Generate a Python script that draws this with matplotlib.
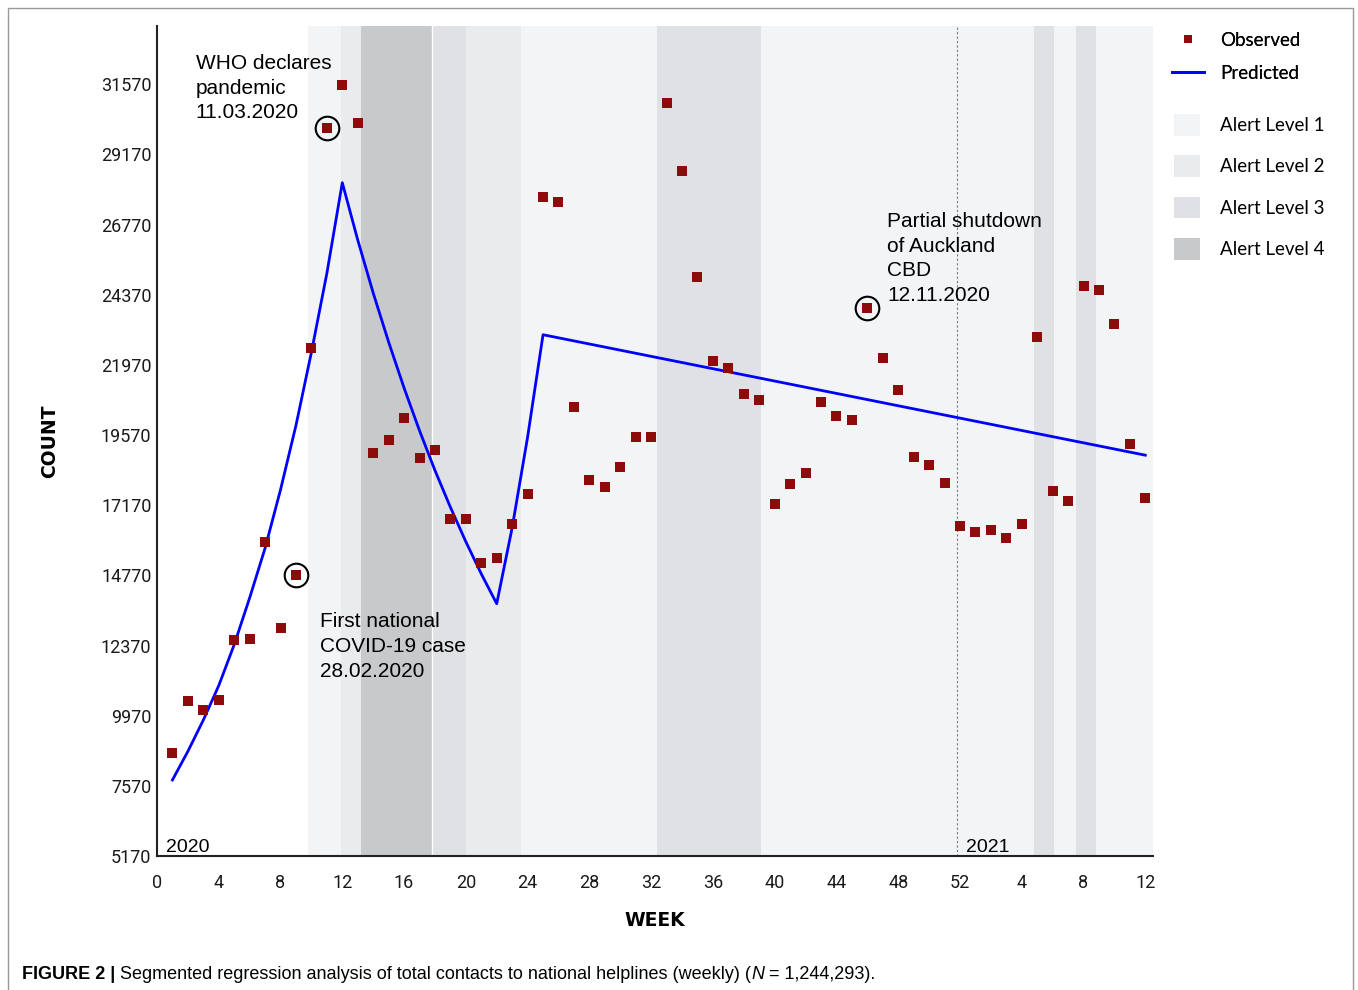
import matplotlib.pyplot as plt
from matplotlib.patches import Rectangle, Patch
from matplotlib.lines import Line2D

# weekly helpline contacts, week 1 = first week of 2020 (weeks 53-64 are 2021)
weeks = list(range(1, 65))
observed = [8690, 10470, 10160, 10500, 12560, 12590, 15910, 12970, 14780, 22540,
            30070, 31540, 30240, 18950, 19400, 20150, 18780, 19060, 16700, 16700,
            15190, 15360, 16520, 17550, 27710, 27540, 20530, 18030, 17790, 18470,
            19500, 19500, 30920, 28600, 24970, 22100, 21860, 20970, 20770, 17210,
            17890, 18270, 20700, 20220, 20080, 23910, 22200, 21110, 18820, 18540,
            17930, 16460, 16250, 16320, 16050, 16520, 22920, 17650, 17310, 24660,
            24530, 23360, 19260, 17410]

# segmented regression fit
pred_weeks = [1, 2, 3, 4, 5, 6, 7, 8, 9, 10, 11, 12,
              13, 14, 15, 16, 17, 18, 19, 20, 21, 22,
              23, 24, 25, 64]
predicted = [7770, 8750, 9820, 11000, 12400, 14000, 15700, 17700, 19900, 22400, 25100, 28200,
             26240, 24430, 22750, 21180, 19720, 18360, 17100, 15920, 14820, 13800,
             16400, 19500, 23000, 18880]

# alert level periods (start week, end week, level)
alert_periods = [(9.8, 11.9, 1), (11.9, 13.2, 2), (13.2, 17.8, 4), (17.8, 20.0, 3),
                 (20.0, 23.6, 2), (23.6, 32.4, 1), (32.4, 39.1, 3), (39.1, 56.8, 1),
                 (56.8, 58.1, 3), (58.1, 59.5, 1), (59.5, 60.8, 3), (60.8, 64.5, 1)]
level_colors = {1: '#f3f4f6', 2: '#eaebed', 3: '#e0e1e4', 4: '#c8c9cb'}

circled_weeks = [9, 11, 46]
year_break = 51.8

yticks = [5170, 7570, 9970, 12370, 14770, 17170, 19570, 21970, 24370, 26770, 29170, 31570]
xticks = list(range(0, 65, 4))
xticklabels = ['0', '4', '8', '12', '16', '20', '24', '28', '32', '36', '40', '44',
               '48', '52', '4', '8', '12']

fig = plt.figure(figsize=(13.58, 9.9), dpi=100)
ax = fig.add_axes([157/1358, 1 - 856/990, (1153 - 157)/1358, (856 - 26)/990])

for start, end, level in alert_periods:
    ax.axvspan(start, end, color=level_colors[level], lw=0, zorder=0)
ax.axvline(17.8, color='white', lw=1, zorder=0.5)
ax.axvline(year_break, color='#777777', lw=0.8, ls=(0, (2, 2)), zorder=1)

ax.plot(pred_weeks, predicted, color='#0000ff', lw=2.0, zorder=2)
ax.plot(weeks, observed, 's', color='#8e0b0b', ms=7, mew=0, zorder=3)

circ_vals = [observed[weeks.index(w)] for w in circled_weeks]
ax.plot(circled_weeks, circ_vals, 'o', ms=17, mfc='none', mec='black', mew=1.5, zorder=4)

ax.set_xlim(0, 64.5)
ax.set_ylim(5170, 33560)
ax.set_yticks(yticks)
ax.set_xticks(xticks)
ax.set_xticklabels(xticklabels)
ax.tick_params(length=0, labelsize=13, colors='#1a1a1a')
ax.tick_params(axis='x', pad=13)
ax.tick_params(axis='y', pad=4)
for lab in ax.get_xticklabels() + ax.get_yticklabels():
    lab.set_family('Roboto')
for side in ['top', 'right']:
    ax.spines[side].set_visible(False)
for side in ['left', 'bottom']:
    ax.spines[side].set_linewidth(1.5)
    ax.spines[side].set_color('#222222')

ax.set_xlabel('WEEK', fontsize=13.5, fontweight='bold', family='DejaVu Sans', labelpad=14)
ax.set_ylabel('COUNT', fontsize=13.5, fontweight='bold', family='DejaVu Sans', labelpad=30)

note_font = dict(fontsize=15, family='Liberation Sans', color='black', va='top',
                 linespacing=1.38)
ax.text(2.5, 32600, 'WHO declares\npandemic\n11.03.2020', **note_font)
ax.text(10.55, 13500, 'First national\nCOVID-19 case\n28.02.2020', **note_font)
ax.text(47.3, 27200, 'Partial shutdown\nof Auckland\nCBD\n12.11.2020', **note_font)
ax.text(0.6, 5470, '2020', fontsize=14, family='Liberation Sans', va='center')
ax.text(52.4, 5470, '2021', fontsize=14, family='Liberation Sans', va='center')

# legends to the right of the plot
leg_font = dict(family='Lato', size=13.5)
h1 = [Line2D([], [], ls='none', marker='s', color='#8e0b0b', ms=6, mew=0),
      Line2D([], [], color='#0000ff', lw=2.0)]
leg1 = fig.legend(h1, ['Observed', 'Predicted'], loc='upper left',
                  bbox_to_anchor=(1172/1358, 1 - 32/990), frameon=False, prop=leg_font,
                  handlelength=1.7, handletextpad=0.85, labelspacing=0.85, borderpad=0,
                  borderaxespad=0)
h2 = [Patch(facecolor=level_colors[k], edgecolor='none') for k in [1, 2, 3, 4]]
fig.legend(h2, ['Alert Level 1', 'Alert Level 2', 'Alert Level 3', 'Alert Level 4'],
           loc='upper left', bbox_to_anchor=(1174/1358, 1 - 114/990), frameon=False,
           prop=leg_font, handlelength=1.4, handleheight=1.4, handletextpad=1.05,
           labelspacing=1.05, borderpad=0, borderaxespad=0)
fig.add_artist(leg1)

# caption
cap_family = ['Liberation Sans Narrow', 'Liberation Sans']
cap_y = 1 - 979/990
cap = fig.text(22/1358, cap_y, 'FIGURE 2 |', fontsize=13, fontweight='bold',
               family=cap_family, va='baseline')
cap2 = fig.text(0, cap_y, ' Segmented regression analysis of total contacts to national helplines (weekly) (',
                fontsize=13, family=cap_family, va='baseline')
fig.canvas.draw()
r = fig.canvas.get_renderer()
bb = cap.get_window_extent(r)
cap2.set_x(bb.x1 / fig.bbox.width)
bb2 = cap2.get_window_extent(r)
cap3 = fig.text(bb2.x1 / fig.bbox.width, cap_y, 'N', fontsize=13, style='italic',
                family=cap_family, va='baseline')
bb3 = cap3.get_window_extent(r)
fig.text(bb3.x1 / fig.bbox.width, cap_y, ' = 1,244,293).', fontsize=13,
         family=cap_family, va='baseline')

fig.add_artist(Rectangle((8/1358, -0.1), (1353 - 8)/1358, 1.1 - 8/990, transform=fig.transFigure,
                         fill=False, edgecolor='#999999', lw=1))

fig.savefig('out.png', dpi=100)
